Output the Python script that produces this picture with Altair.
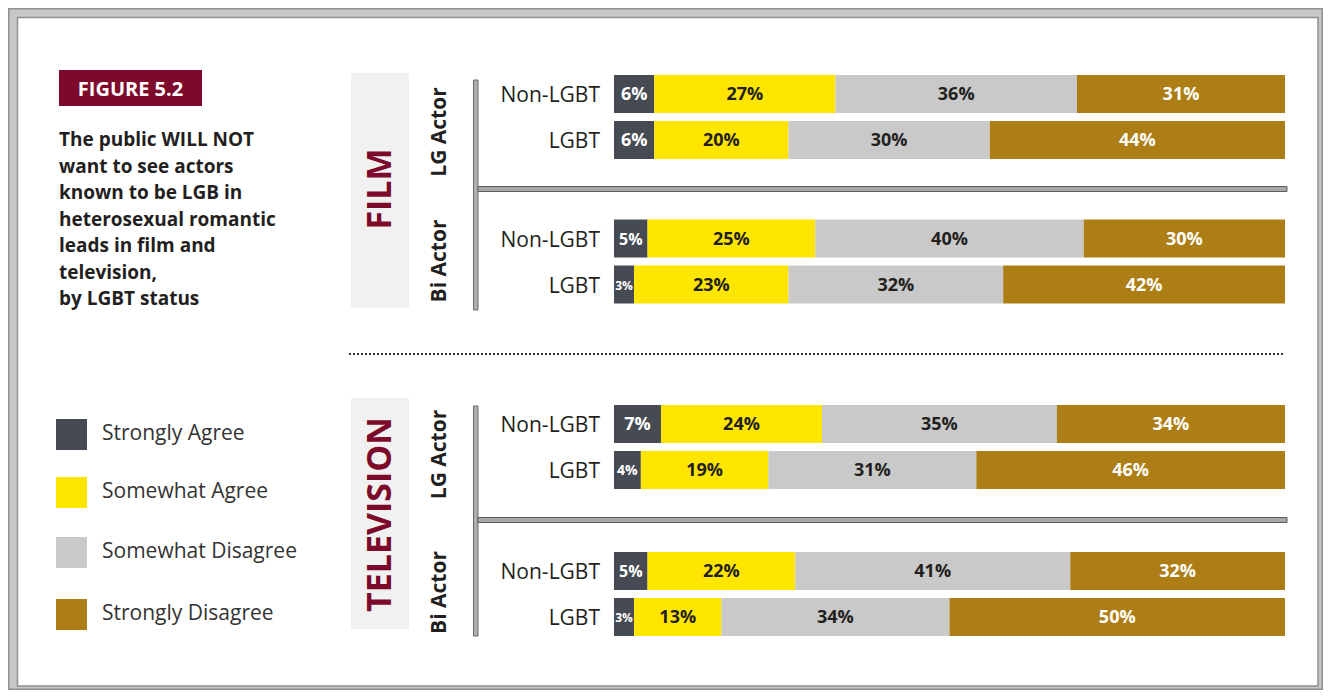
import altair as alt
import pandas as pd

# ---------------- data ----------------
mediums = ["FILM", "TELEVISION"]
actors = ["LG Actor", "Bi Actor"]
statuses = ["Non-LGBT", "LGBT"]
responses = ["Strongly Agree", "Somewhat Agree", "Somewhat Disagree", "Strongly Disagree"]
# rows in order: FILM/LG/Non-LGBT, FILM/LG/LGBT, FILM/Bi/Non-LGBT, FILM/Bi/LGBT, TV/LG/..., TV/Bi/...
strongly_agree = [6, 6, 5, 3, 7, 4, 5, 3]
somewhat_agree = [27, 20, 25, 23, 24, 19, 22, 13]
somewhat_disagree = [36, 30, 40, 32, 35, 31, 41, 34]
strongly_disagree = [31, 44, 30, 42, 34, 46, 32, 50]
colors = ["#464a52", "#ffe600", "#c8c9c8", "#ad7e16"]
figure_label = "FIGURE 5.2"
title_lines = [
    "The public WILL NOT",
    "want to see actors",
    "known  to be LGB in",
    "heterosexual romantic",
    "leads in film and",
    "television,",
    "by LGBT status",
]

# ---------------- layout (page pixels -> chart pixels) ----------------
W, H = 1315, 682
OFF = 8


def P(v):
    return v - OFF


FONT = "Open Sans"
DARK = "#231f20"
CRIMSON = "#7d0a2a"
med_top = {"FILM": 94, "TELEVISION": 424}
actor_off = {"FILM": [0, 144.5], "TELEVISION": [0, 147]}
status_step = 46
bar_half = 19

series = [strongly_agree, somewhat_agree, somewhat_disagree, strongly_disagree]
rows = []
i = 0
for m in mediums:
    for ai, a in enumerate(actors):
        for si, s in enumerate(statuses):
            yc = P(med_top[m] + actor_off[m][ai] + status_step * si)
            start = 0
            for ri, r in enumerate(responses):
                v = series[ri][i]
                rows.append(dict(medium=m, actor=a, status=s, response=r, value=v,
                                 x0=start, x1=start + v, mid=start + v / 2,
                                 yc=yc, yt=yc - bar_half, yb=yc + bar_half,
                                 label=f"{v}%",
                                 fs=12 if v <= 3 else (14 if v == 4 else (16 if v == 5 else 18))))
                start += v
            i += 1
df = pd.DataFrame(rows)
status_df = df.drop_duplicates(["medium", "actor", "status"])

xscale = alt.Scale(domain=[0, 100], range=[P(614), P(1285)])
yscale = alt.Scale(domain=[0, H], range=[0, H], nice=False, zero=False)
cscale = alt.Scale(domain=responses, range=colors)

one = pd.DataFrame({"k": [0]})

# frame
frame_outer = alt.Chart(one).mark_rect(fill="#c6c8c7", stroke="#8e9091", strokeWidth=1.5).encode(
    x=alt.value(0.75), x2=alt.value(W - 0.75), y=alt.value(0.75), y2=alt.value(H - 0.75))
frame_inner = alt.Chart(one).mark_rect(fill="white", stroke="#8e9091", strokeWidth=1.5).encode(
    x=alt.value(P(17.5)), x2=alt.value(P(1318)), y=alt.value(P(17.5)), y2=alt.value(P(686)))

# figure badge + title
badge = alt.Chart(one).mark_rect(fill=CRIMSON).encode(
    x=alt.value(P(59)), x2=alt.value(P(202)), y=alt.value(P(70)), y2=alt.value(P(106)))
badge_text = alt.Chart(one).mark_text(font=FONT, fontWeight="bold", fontSize=20, color="white",
                                      align="center", baseline="middle").encode(
    x=alt.value(P(130.5)), y=alt.value(P(89.5)), text=alt.value(figure_label))
title = alt.Chart(one).mark_text(font=FONT, fontWeight="bold", fontSize=19, color=DARK,
                                 align="left", baseline="alphabetic", lineHeight=26.5).encode(
    x=alt.value(P(59)), y=alt.value(P(146)), text=alt.value(title_lines))

# medium panels
panel_df = pd.DataFrame({
    "medium": mediums,
    "y0": [P(73), P(398)],
    "y1": [P(308), P(629)],
    "yc": [P(189), P(514.5)],
})
panels = alt.Chart(panel_df).mark_rect(fill="#f0f1f0").encode(
    x=alt.value(P(351)), x2=alt.value(P(409)),
    y=alt.Y("y0:Q", scale=yscale, axis=None), y2="y1:Q")
panel_text = alt.Chart(panel_df).mark_text(font=FONT, fontWeight="bold", fontSize=34, color=CRIMSON,
                                           angle=270, align="center", baseline="middle").encode(
    x=alt.value(P(381)), y=alt.Y("yc:Q", scale=yscale, axis=None), text="medium:N")

# actor labels
actor_df = pd.DataFrame({
    "actor": actors * 2,
    "yc": [P(132), P(261), P(454.5), P(592.5)],
})
actor_text = alt.Chart(actor_df).mark_text(font=FONT, fontWeight="bold", fontSize=21, color=DARK,
                                           angle=270, align="center", baseline="middle").encode(
    x=alt.value(P(440)), y=alt.Y("yc:Q", scale=yscale, axis=None), text="actor:N")

# axis lines
vline_df = pd.DataFrame({"y0": [P(80), P(406)], "y1": [P(310), P(636)]})
vlines = alt.Chart(vline_df).mark_rect(fill="#b0b0b0", stroke="#6a6a6a", strokeWidth=1).encode(
    x=alt.value(P(473.5)), x2=alt.value(P(478)),
    y=alt.Y("y0:Q", scale=yscale, axis=None), y2="y1:Q")
hline_df = pd.DataFrame({"y0": [P(186.5), P(517.5)], "y1": [P(191.5), P(522.5)]})
hlines = alt.Chart(hline_df).mark_rect(fill="#a8a8a8", stroke="#5e5e5e", strokeWidth=1).encode(
    x=alt.value(P(478)), x2=alt.value(P(1287)),
    y=alt.Y("y0:Q", scale=yscale, axis=None), y2="y1:Q")

dotted = alt.Chart(one).mark_rule(strokeDash=[2, 2], strokeWidth=2, color="#333333").encode(
    x=alt.value(P(349)), x2=alt.value(P(1283)), y=alt.value(P(354)))

# bars
bars = alt.Chart(df).mark_rect().encode(
    x=alt.X("x0:Q", scale=xscale, axis=None), x2="x1:Q",
    y=alt.Y("yt:Q", scale=yscale, axis=None), y2="yb:Q",
    color=alt.Color("response:N", scale=cscale, legend=None))

labels = alt.Chart(df).mark_text(font=FONT, fontWeight="bold", align="center", baseline="middle",
                                 dy=1).encode(
    x=alt.X("mid:Q", scale=xscale, axis=None),
    y=alt.Y("yc:Q", scale=yscale, axis=None),
    text="label:N",
    size=alt.Size("fs:Q", scale=None, legend=None),
    color=alt.condition(
        alt.FieldOneOfPredicate(field="response", oneOf=["Somewhat Agree", "Somewhat Disagree"]),
        alt.value(DARK), alt.value("white")))

row_labels = alt.Chart(status_df).mark_text(font=FONT, fontSize=21, color=DARK, align="right",
                                            baseline="middle", dy=2).encode(
    x=alt.value(P(600)), y=alt.Y("yc:Q", scale=yscale, axis=None), text="status:N")

# legend
leg_centers = [434.5, 492.5, 552.5, 614.5]
leg_df = pd.DataFrame({
    "response": responses,
    "y0": [P(c - 15.5) for c in leg_centers],
    "y1": [P(c + 15.5) for c in leg_centers],
    "yc": [P(c - 1) for c in leg_centers],
})
leg_sq = alt.Chart(leg_df).mark_rect().encode(
    x=alt.value(P(56)), x2=alt.value(P(87)),
    y=alt.Y("y0:Q", scale=yscale, axis=None), y2="y1:Q",
    color=alt.Color("response:N", scale=cscale, legend=None))
leg_txt = alt.Chart(leg_df).mark_text(font=FONT, fontSize=21, color="#333333", align="left",
                                      baseline="middle").encode(
    x=alt.value(P(102)), y=alt.Y("yc:Q", scale=yscale, axis=None), text="response:N")

chart = alt.layer(
    frame_outer, frame_inner, badge, badge_text, title,
    panels, panel_text, actor_text, vlines, hlines, dotted,
    bars, labels, row_labels, leg_sq, leg_txt,
).properties(
    width=W, height=H, padding=0,
    autosize=alt.AutoSizeParams(type="none"),
    background="white",
).configure_view(stroke=None)

chart.save("out.html", embed_options={"renderer": "svg", "actions": False})
